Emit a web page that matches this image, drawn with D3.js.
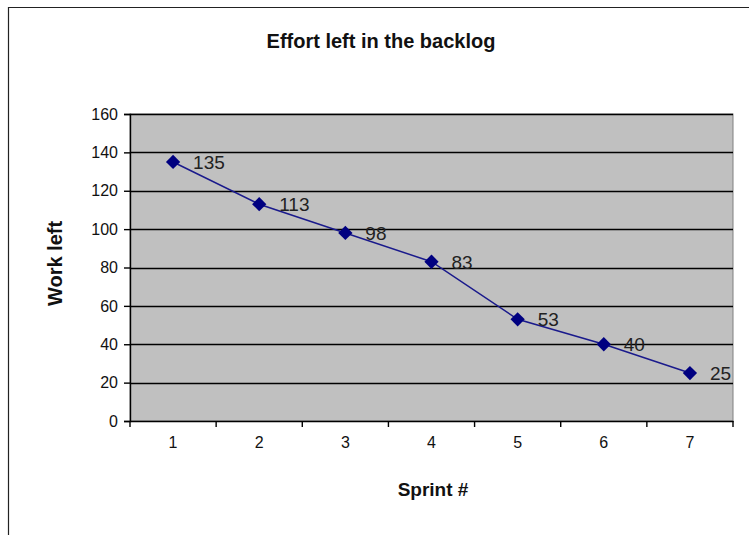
<!DOCTYPE html>
<html>
<head>
<meta charset="utf-8">
<script src="https://cdn.jsdelivr.net/npm/d3@7"></script>
<style>
  body { margin: 0; background: #fff; }
  svg { display: block; font-family: Arial, "Liberation Sans", sans-serif; }
</style>
</head>
<body>
<div id="chart"></div>
<script>
// chart data
const sprints = ['1', '2', '3', '4', '5', '6', '7'];
const workLeft = [135, 113, 98, 83, 53, 40, 25];
const yTicks = [0, 20, 40, 60, 80, 100, 120, 140, 160];

const W = 749, H = 535;
const margin = { top: 114, right: 16, bottom: 114, left: 130 };
const width = W - margin.left - margin.right;
const height = H - margin.top - margin.bottom;

const svg = d3.select('#chart').append('svg')
  .attr('width', W)
  .attr('height', H);

// outer chart frame (only top and left edges visible)
svg.append('path')
  .attr('d', `M8.5,${H} V7.5 H${W}`)
  .attr('fill', 'none')
  .attr('stroke', '#222')
  .attr('stroke-width', 1.2);

const g = svg.append('g')
  .attr('transform', `translate(${margin.left},${margin.top})`);

const x = d3.scaleBand().domain(sprints).range([0, width]);
const y = d3.scaleLinear().domain([0, 160]).range([height, 0]);

// plot background
g.append('rect')
  .attr('width', width)
  .attr('height', height)
  .attr('fill', '#c0c0c0')
  .attr('stroke', '#808080');

// gridlines
g.selectAll('.grid')
  .data(yTicks.filter(d => d > 0))
  .enter()
  .append('line')
  .attr('x1', 0).attr('x2', width)
  .attr('y1', d => Math.round(y(d)) + 0.5)
  .attr('y2', d => Math.round(y(d)) + 0.5)
  .attr('stroke', '#000')
  .attr('stroke-width', 1.4);

// y axis
const yAxis = g.append('g')
  .call(d3.axisLeft(y).tickValues(yTicks).tickSize(6).tickPadding(6));
yAxis.select('.domain').attr('stroke', '#000').attr('stroke-width', 1.4);
yAxis.selectAll('line').attr('stroke', '#000').attr('stroke-width', 1.4);
yAxis.selectAll('text')
  .attr('font-size', '16px')
  .attr('fill', '#111');

// x axis: ticks at category boundaries
const xAxis = g.append('g')
  .attr('transform', `translate(0,${height})`)
  .call(d3.axisBottom(x).tickSize(0).tickPadding(16));
xAxis.select('.domain').attr('stroke', '#000').attr('stroke-width', 1.4);
xAxis.selectAll('text')
  .attr('font-size', '16px')
  .attr('fill', '#111');

g.append('g')
  .selectAll('line')
  .data(sprints.map(s => x(s)).concat([width]))
  .enter()
  .append('line')
  .attr('x1', d => d).attr('x2', d => d)
  .attr('y1', height).attr('y2', height + 6)
  .attr('stroke', '#000')
  .attr('stroke-width', 1.4);

const data = sprints.map((s, i) => ({ s, v: workLeft[i] }));
const cx = d => x(d.s) + x.bandwidth() / 2;

// line
g.append('path')
  .datum(data)
  .attr('fill', 'none')
  .attr('stroke', '#1a1a8c')
  .attr('stroke-width', 1.5)
  .attr('d', d3.line().x(cx).y(d => y(d.v)));

// diamond markers
g.selectAll('.marker')
  .data(data)
  .enter()
  .append('path')
  .attr('transform', d => `translate(${cx(d)},${y(d.v)})`)
  .attr('d', d3.symbol().type(d3.symbolDiamond2).size(130))
  .attr('fill', '#000080');

// data labels
g.selectAll('.lbl')
  .data(data)
  .enter()
  .append('text')
  .attr('x', d => cx(d) + 20)
  .attr('y', d => y(d.v) + 7)
  .attr('font-size', '19px')
  .attr('fill', '#222')
  .text(d => d.v);

// title
svg.append('text')
  .attr('x', 381)
  .attr('y', 48)
  .attr('text-anchor', 'middle')
  .attr('font-size', '20px')
  .attr('font-weight', 'bold')
  .attr('fill', '#111')
  .text('Effort left in the backlog');

// axis titles
svg.append('text')
  .attr('transform', `translate(62,${margin.top + height / 2 - 4}) rotate(-90)`)
  .attr('text-anchor', 'middle')
  .attr('font-size', '20px')
  .attr('font-weight', 'bold')
  .attr('fill', '#111')
  .text('Work left');

svg.append('text')
  .attr('x', 433)
  .attr('y', 496)
  .attr('text-anchor', 'middle')
  .attr('font-size', '19px')
  .attr('font-weight', 'bold')
  .attr('fill', '#111')
  .text('Sprint #');
</script>
</body>
</html>
